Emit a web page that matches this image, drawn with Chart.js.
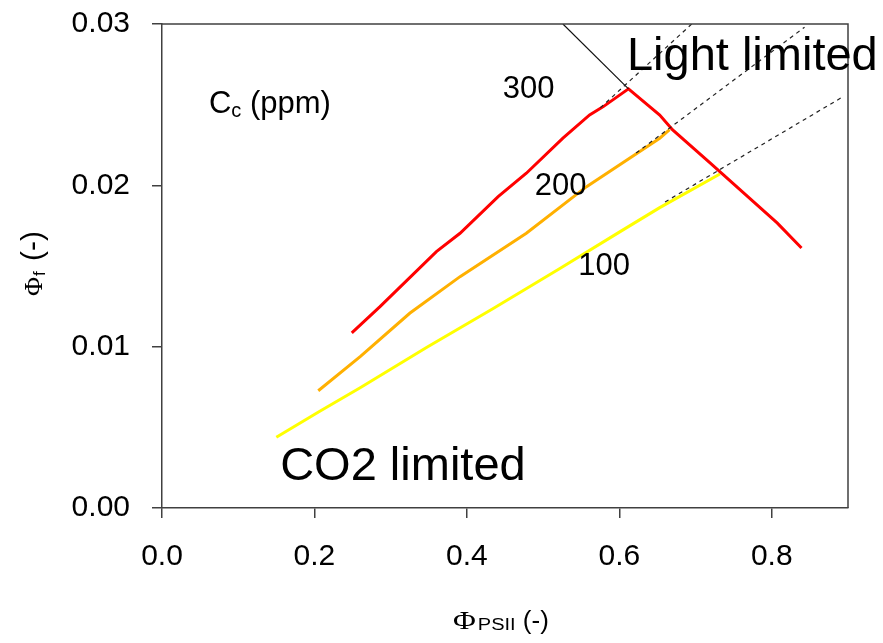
<!DOCTYPE html>
<html>
<head>
<meta charset="utf-8">
<script src="https://cdn.jsdelivr.net/npm/chart.js@4/dist/chart.umd.min.js"></script>
<style>
  html, body { margin: 0; padding: 0; background: #fff; }
</style>
</head>
<body>
<canvas id="myChart" width="883" height="643"></canvas>
<script>
// Cc = 300 ppm (rises while CO2 limited, then falls along the light limited line)
const c300X = [0.249, 0.286, 0.360, 0.391, 0.441, 0.478, 0.526, 0.561, 0.579, 0.612, 0.653, 0.670, 0.719, 0.807, 0.839];
const c300Y = [0.01085, 0.01248, 0.01589, 0.01703, 0.0193, 0.02075, 0.02292, 0.02436, 0.02488, 0.02598, 0.02436, 0.02343, 0.02139, 0.01767, 0.01612];
// Cc = 200 ppm
const c200X = [0.205, 0.260, 0.325, 0.391, 0.478, 0.557, 0.653, 0.666];
const c200Y = [0.00727, 0.00938, 0.01207, 0.01434, 0.01703, 0.01992, 0.02292, 0.02345];
// Cc = 100 ppm
const c100X = [0.150, 0.207, 0.260, 0.347, 0.434, 0.522, 0.600, 0.653, 0.732];
const c100Y = [0.00438, 0.00600, 0.00745, 0.00995, 0.01235, 0.01485, 0.01710, 0.01862, 0.02070];
// dashed extensions into the light limited region
const ext300X = [0.575, 0.695];
const ext300Y = [0.0248, 0.0300];
const ext200X = [0.622, 0.843];
const ext200Y = [0.0220, 0.0298];
const ext100X = [0.660, 0.893];
const ext100Y = [0.01897, 0.02548];
// light limited line above the 300 ppm peak
const lightX = [0.526, 0.612];
const lightY = [0.0300, 0.02598];

const xTicks = [0, 0.2, 0.4, 0.6, 0.8];
const yTicks = [0, 0.01, 0.02, 0.03];

const FONT = "'Liberation Sans', Arial, sans-serif";
const SERIF = "'Liberation Serif', 'Times New Roman', serif";

function pts(xs, ys) {
  return xs.map((x, i) => ({ x: x, y: ys[i] }));
}

function line(xs, ys, color, width, dash, order) {
  return {
    data: pts(xs, ys),
    showLine: true,
    borderColor: color,
    borderWidth: width,
    borderDash: dash,
    pointRadius: 0,
    fill: false,
    order: order
  };
}

// text drawn in data coordinates
const notes = [
  { text: 'Light limited', x: 0.610, y: 0.02715, size: 47 },
  { text: 'CO2 limited', x: 0.155, y: 0.00174, size: 47 },
  { text: '300', x: 0.447, y: 0.02542, size: 31 },
  { text: '200', x: 0.489, y: 0.0194, size: 31 },
  { text: '100', x: 0.546, y: 0.01444, size: 31 }
];

function drawParts(ctx, parts, x, y) {
  let cx = x;
  parts.forEach(p => {
    ctx.font = p.font;
    const sx = p.sx || 1;
    ctx.save();
    ctx.translate(cx, y + (p.dy || 0));
    ctx.scale(sx, 1);
    ctx.fillText(p.t, 0, 0);
    ctx.restore();
    cx += ctx.measureText(p.t).width * sx + (p.gap || 0);
  });
}

const decor = {
  id: 'decor',
  afterDraw(chart) {
    const ctx = chart.ctx;
    const a = chart.chartArea;
    const sx = chart.scales.x, sy = chart.scales.y;
    ctx.save();
    // box frame (top and right)
    ctx.strokeStyle = '#404040';
    ctx.lineWidth = 1.5;
    ctx.beginPath();
    ctx.moveTo(a.left, a.top);
    ctx.lineTo(a.right, a.top);
    ctx.lineTo(a.right, a.bottom);
    ctx.stroke();

    ctx.fillStyle = '#000';
    ctx.textAlign = 'left';
    ctx.textBaseline = 'alphabetic';
    notes.forEach(n => {
      ctx.font = n.size + 'px ' + FONT;
      ctx.fillText(n.text, sx.getPixelForValue(n.x), sy.getPixelForValue(n.y));
    });

    // Cc (ppm)
    drawParts(ctx, [
      { t: 'C', font: '31px ' + FONT },
      { t: 'c', font: '20px ' + FONT, dy: 4 },
      { t: ' (ppm)', font: '31px ' + FONT }
    ], sx.getPixelForValue(0.0616), sy.getPixelForValue(0.02449));

    // x axis title
    drawParts(ctx, [
      { t: 'Φ', font: '25px ' + SERIF, sx: 1.25, gap: 2 },
      { t: 'PSII', font: '16px ' + FONT, sx: 1.25, dy: 1 },
      { t: ' (-)', font: '26px ' + FONT }
    ], 453, 629);

    // y axis title (rotated)
    ctx.translate(42, 296);
    ctx.rotate(-Math.PI / 2);
    drawParts(ctx, [
      { t: 'Φ', font: '26px ' + SERIF, gap: 1 },
      { t: 'f', font: '17px ' + FONT, dy: 3, gap: 2 },
      { t: ' (-)', font: '30px ' + FONT }
    ], 0, 0);
    ctx.restore();
  }
};

const ctx = document.querySelector('#myChart');

new Chart(ctx, {
  type: 'scatter',
  data: {
    datasets: [
      line(ext300X, ext300Y, '#222', 1.2, [4, 4], 0),
      line(ext200X, ext200Y, '#222', 1.2, [4, 4], 0),
      line(ext100X, ext100Y, '#222', 1.2, [4, 4], 0),
      line(lightX, lightY, '#111', 1.2, [], 0),
      line(c300X, c300Y, '#ff0000', 3, [], 1),
      line(c200X, c200Y, '#ffb000', 3, [], 2),
      line(c100X, c100Y, '#ffff00', 3, [], 3)
    ]
  },
  options: {
    responsive: false,
    animation: false,
    layout: { padding: { top: 24, right: 35, left: 0, bottom: 0 } },
    plugins: {
      legend: { display: false },
      tooltip: { enabled: false }
    },
    scales: {
      x: {
        type: 'linear',
        min: 0,
        max: 0.9,
        afterFit: s => { s.height = 135; s.paddingLeft = 0; s.paddingRight = 0; },
        afterBuildTicks: s => { s.ticks = xTicks.map(v => ({ value: v })); },
        border: { color: '#404040', width: 1.5 },
        grid: { drawOnChartArea: false, tickLength: 10, color: '#404040', lineWidth: 1.5 },
        ticks: {
          padding: 21,
          color: '#000',
          font: { family: FONT, size: 30 },
          callback: v => v.toFixed(1)
        }
      },
      y: {
        type: 'linear',
        min: 0,
        max: 0.03,
        afterFit: s => { s.width = 162; s.paddingTop = 0; s.paddingBottom = 0; },
        afterBuildTicks: s => { s.ticks = yTicks.map(v => ({ value: v })); },
        border: { color: '#404040', width: 1.5 },
        grid: { drawOnChartArea: false, tickLength: 10, color: '#404040', lineWidth: 1.5 },
        ticks: {
          padding: 22,
          color: '#000',
          font: { family: FONT, size: 30 },
          callback: v => v.toFixed(2)
        }
      }
    }
  },
  plugins: [decor]
});
</script>
</body>
</html>
